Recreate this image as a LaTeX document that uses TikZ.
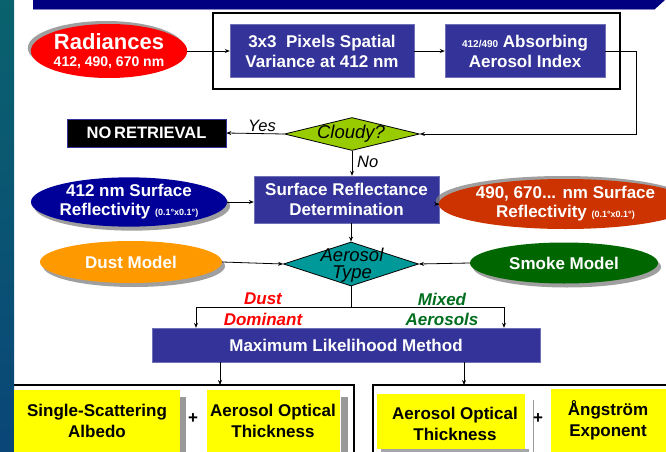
\documentclass[tikz,border=0pt]{standalone}
\usepackage{fontspec}
\setmainfont{Liberation Sans}
\usetikzlibrary{shapes.geometric,shadows,arrows.meta}
\definecolor{boxblue}{RGB}{51,51,153}
\definecolor{navy}{RGB}{0,0,128}
\definecolor{radred}{RGB}{255,0,0}
\definecolor{darkov}{RGB}{0,0,153}
\definecolor{rust}{RGB}{204,51,0}
\definecolor{orng}{RGB}{255,153,0}
\definecolor{dgreen}{RGB}{0,102,0}
\definecolor{lgreen}{RGB}{153,204,0}
\definecolor{tealc}{RGB}{0,153,153}
\definecolor{yel}{RGB}{255,255,0}
\definecolor{stripTop}{RGB}{10,98,110}
\definecolor{stripBot}{RGB}{10,70,120}
\definecolor{lblred}{RGB}{255,0,0}
\definecolor{lblgreen}{RGB}{0,110,30}
\tikzset{
  bluebox/.style={draw=boxblue!70!white, fill=boxblue, text=white, align=center, inner sep=0pt,
    font=\bfseries\fontsize{17}{20}\selectfont},
  oval/.style={ellipse, inner sep=0pt, text=white, align=center,
    font=\bfseries\fontsize{17}{19}\selectfont},
  shdr/.style={drop shadow={shadow xshift=3pt, shadow yshift=-4pt, fill=gray, opacity=0.75}},
  shul/.style={drop shadow={shadow xshift=-3pt, shadow yshift=3pt, fill=gray, opacity=0.75}},
  dia/.style={diamond, draw=black, line width=0.8pt, inner sep=0pt},
  diatext/.style={font=\itshape\fontsize{18.5}{17}\selectfont, align=center, inner sep=0pt},
  arr/.style={-{Stealth[length=5pt,width=4pt]}, line width=0.8pt},
  ln/.style={line width=0.8pt},
  lbl/.style={font=\itshape\fontsize{16.5}{18}\selectfont, inner sep=0pt},
  blbl/.style={font=\bfseries\itshape\fontsize{17}{20}\selectfont, inner sep=0pt, align=center},
  ytext/.style={font=\bfseries\fontsize{17}{21}\selectfont, align=center, inner sep=0pt},
  frame/.style={line width=1.3pt, draw=black}
}
\begin{document}
\begin{tikzpicture}[x=1pt,y=-1pt]
\clip (0,0) rectangle (666,452);
\fill[white] (0,0) rectangle (666,452);
% left strip
\shade[top color=stripTop, bottom color=stripBot] (0,0) rectangle (14,452);
% top banner
\fill[navy] (33,0) -- (665,0) -- (655,9) -- (33,9) -- cycle;
\draw[boxblue!60!white, line width=0.6pt] (33,9) -- (655,9);

% outer frame around top boxes
\draw[frame, line width=1.5pt] (213,13) rectangle (620,89);

% nodes
\node[oval, shul, fill=radred, minimum width=148pt, minimum height=54pt] (rad) at (109,51)
  {{\fontsize{22}{24}\selectfont Radiances}\\[-2pt]{\fontsize{14}{15}\selectfont 412, 490, 670 nm}};
\node[bluebox, minimum width=184pt, minimum height=53pt] (box1) at (322,51)
  {3x3\ \ Pixels Spatial\\Variance at 412 nm};
\node[bluebox, minimum width=160pt, minimum height=53pt] (box2) at (525,51)
  {{\fontsize{10}{12}\selectfont 412/490} Absorbing\\Aerosol Index};

\node[dia, fill=lgreen, minimum width=135pt, minimum height=33pt] (cloudy) at (352,134) {};
\node[diatext] (cloudyt) at (351,134) {Cloudy?};
\node[draw=boxblue, line width=0.6pt, fill=black, text=white, inner sep=0pt,
  minimum width=159pt, minimum height=28pt, font=\bfseries\fontsize{16.5}{18}\selectfont] (nore) at (146.5,133)
  {NO\,RETRIEVAL};

\node[bluebox, minimum width=185pt, minimum height=47pt] (srd) at (346.5,199.5)
  {Surface Reflectance\\Determination};
\node[oval, shdr, fill=darkov, minimum width=182pt, minimum height=45pt] (r412) at (129,202)
  {412 nm Surface\\Reflectivity {\fontsize{9}{10}\selectfont(0.1°x0.1°)}};
\node[oval, shul, fill=rust, minimum width=195pt, minimum height=50pt] (r490) at (565.5,204)
  {490, 670... nm Surface\\Reflectivity {\fontsize{9}{10}\selectfont(0.1°x0.1°)}};

\node[dia, fill=tealc, minimum width=135pt, minimum height=44pt] (aero) at (351,264) {};
\node[diatext] (aerot) at (352,265) {Aerosol\\Type};
\node[oval, shdr, fill=orng, minimum width=182pt, minimum height=42pt] (dust) at (131,262) {Dust Model};
\node[oval, shdr, fill=dgreen, minimum width=188pt, minimum height=41pt] (smoke) at (564,263) {Smoke Model};

\node[bluebox, minimum width=388pt, minimum height=34pt] (mlm) at (346,345) {Maximum Likelihood Method};

% labels
\node[lbl] (yes) at (262,126) {Yes};
\node[lbl, anchor=west] (no) at (357,162) {No};
\node[blbl, text=lblred] (dustl) at (263,299) {Dust};
\node[blbl, text=lblred] (doml) at (263,319) {Dominant};
\node[blbl, text=lblgreen] (mixl) at (442,299) {Mixed};
\node[blbl, text=lblgreen] (aerl) at (442,319) {Aerosols};

% connectors
\coordinate (c1) at (636,134);
\draw[arr] (rad.east) -- (box1.west);
\draw[arr] (box1.east) -- (box2.east -| box2.west);
\draw[arr] (box2.east) -| (c1) -- (cloudy.east);
\draw[arr] (cloudy.west) -- (nore.east);
\draw[arr] (cloudy.south) -- (cloudy.south |- srd.north);
\draw[arr] (r412.east) -- (r412.east -| srd.west);
\draw[arr] (r490.west) -- (r490.west -| srd.east);
\draw[arr] (srd.south -| aero.north) -- (aero.north);
\draw[arr] (dust.east) -- (aero.west);
\draw[arr] (smoke.west) -- (aero.east);
\coordinate (split) at (351,307);
\coordinate (spl) at (196,307);
\coordinate (spr) at (504,307);
\draw[ln] (aero.south) -- (split);
\draw[arr] (split) -- (spl) -- (spl |- mlm.north);
\draw[arr] (split) -- (spr) -- (spr |- mlm.north);

% bottom frames
\coordinate (fl) at (220,385);
\coordinate (fr) at (464,385);
\draw[frame] (14,385) -- (354,385) -- (354,460);
\draw[frame] (373,460) -- (373,385) -- (670,385);
\draw[arr] (mlm.south -| fl) -- (fl);
\draw[arr] (mlm.south -| fr) -- (fr);

% yellow boxes with shadows
\fill[gray!80] (180,397) rectangle (186,460);
\fill[yel] (14,390) rectangle (180,460);
\fill[gray!80] (341,397) rectangle (348,460);
\fill[yel] (207,390) rectangle (340,460);
\fill[gray!70] (381,449) rectangle (529,460);
\fill[yel] (377,394) rectangle (525,449);
\draw[gray!80, line width=0.6pt] (533,400) -- (533,460);
\fill[yel] (551,389) rectangle (670,460);

\node[ytext] (ssa) at (97,420.5) {Single-Scattering\\Albedo};
\node[ytext] (plus1) at (193,419) {+};
\node[ytext] (aotl) at (273,420.5) {Aerosol Optical\\Thickness};
\node[ytext] (aotr) at (455,424) {Aerosol Optical\\Thickness};
\node[ytext] (plus2) at (538,419) {+};
\node[ytext] (ang) at (608,420.5) {Ångström\\Exponent};
\end{tikzpicture}
\end{document}
